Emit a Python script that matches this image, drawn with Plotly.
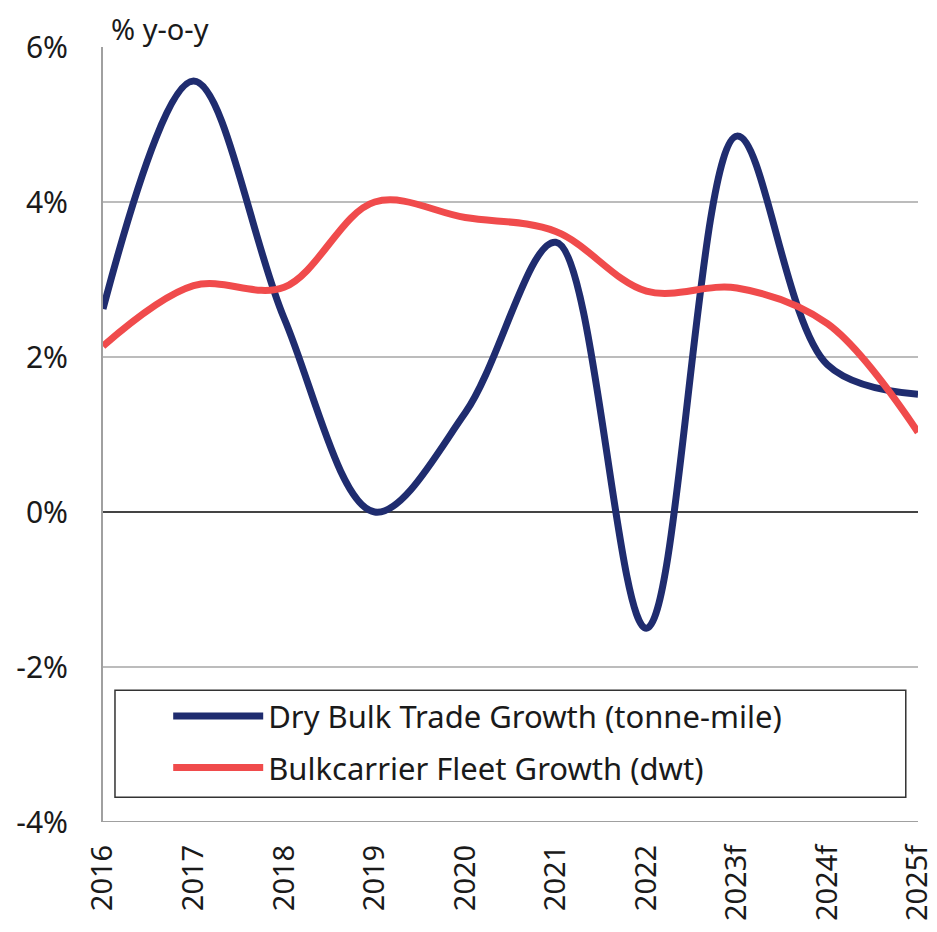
import plotly.graph_objects as go

years = ["2016", "2017", "2018", "2019", "2020", "2021", "2022", "2023f", "2024f", "2025f"]
trade_growth = [2.62, 5.56, 2.5, 0.0, 1.28, 3.48, -1.5, 4.85, 1.9, 1.52]
fleet_growth = [2.14, 2.92, 2.9, 4.0, 3.8, 3.62, 2.85, 2.89, 2.43, 1.03]

y_ticks = [-4, -2, 0, 2, 4, 6]
y_labels = ["-4%", "-2%", "0%", "2%", "4%", "6%"]

BLUE = "#1f2c6f"
RED = "#f04b4c"
FONT = "Noto Sans"

fig = go.Figure()
fig.add_trace(go.Scatter(
    x=years, y=trade_growth, mode="lines",
    name="Dry Bulk Trade Growth (tonne-mile)", legendgroup="a",
    line=dict(color=BLUE, width=7, shape="spline", smoothing=1.0),
))
fig.add_trace(go.Scatter(
    x=years, y=fleet_growth, mode="lines",
    name="Bulkcarrier Fleet Growth (dwt)", legendgroup="b",
    line=dict(color=RED, width=7, shape="spline", smoothing=1.0),
))

# page body has an 8px margin, so the figure is a little smaller than the window
fig.update_layout(
    width=929, height=924,
    margin=dict(l=95, r=19, t=39, b=110, autoexpand=False),
    paper_bgcolor="white", plot_bgcolor="white",
    font=dict(family=FONT, size=28, color="#1a1a1a"),
    showlegend=True,
    legend=dict(
        x=0.08, y=0.171, xanchor="left", yanchor="top",
        borderwidth=0, bgcolor="rgba(0,0,0,0)",
        font=dict(size=31),
        itemwidth=90,
        tracegroupgap=8,
    ),
    annotations=[dict(
        text="% y-o-y", x=0, y=1, xref="paper", yref="paper",
        xanchor="left", yanchor="bottom", showarrow=False,
        xshift=6, yshift=-3, font=dict(size=29),
    )],
    shapes=[dict(
        type="rect", xref="paper", yref="paper",
        x0=0.0147, x1=0.985, y0=0.032, y1=0.170,
        line=dict(color="#333333", width=1.5), fillcolor="white",
        layer="below",
    )],
)
fig.update_xaxes(
    type="category", range=[0, 9], tickangle=-90,
    showgrid=False, showline=False, zeroline=False,
    ticks="", ticklabelstandoff=16, automargin=False,
    tickfont=dict(size=29),
)
fig.update_yaxes(
    range=[-4, 6], tickvals=y_ticks, ticktext=y_labels,
    showgrid=True, gridcolor="#bcbcbc", gridwidth=2,
    zeroline=True, zerolinecolor="#444444", zerolinewidth=2,
    showline=True, linecolor="#a0a0a0", linewidth=2,
    ticks="", ticklabelstandoff=27, automargin=False,
    tickfont=dict(size=30),
)
fig.add_hline(y=-4, line=dict(color="#a0a0a0", width=2), layer="below")

fig.write_html("out.html")
